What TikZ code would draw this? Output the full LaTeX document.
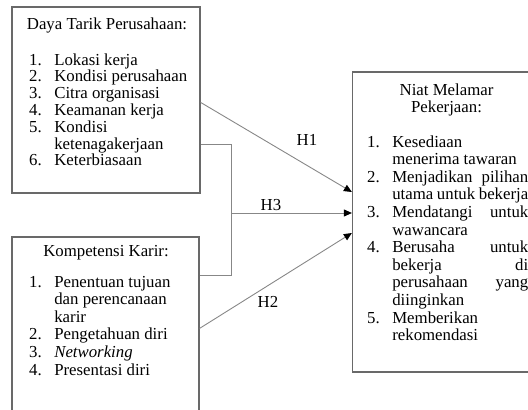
\documentclass[tikz,border=0pt]{standalone}
\usepackage{fontspec}
\setmainfont{Liberation Serif}
\usepackage{array}
\usetikzlibrary{arrows.meta,calc}
\definecolor{framegray}{RGB}{105,105,105}
\definecolor{linkgray}{RGB}{135,135,135}
\tikzset{
  >={Triangle[length=8pt,width=7pt,color=black]},
  frame/.style={draw=framegray,line width=1.2pt,inner sep=0pt},
  link/.style={draw=linkgray,line width=0.9pt},
  heading/.style={font={\fontsize{16.8pt}{17.6pt}\selectfont},align=center,inner sep=0pt},
  items/.style={font={\fontsize{16.8pt}{#1}\selectfont},inner sep=0pt,anchor=base west},
  items/.default=17.6pt,
  tag/.style={font={\fontsize{16.8pt}{17.6pt}\selectfont},inner sep=0pt},
}

\begin{document}
\begin{tikzpicture}[x=1pt,y=-1pt]
  \useasboundingbox (0,0) rectangle (528,410);
  % boxes
  \node[frame,minimum width=188pt,minimum height=186pt] (dtp) at (106,100) {};
  \node[frame,minimum width=187pt,minimum height=183pt] (kk) at (105.5,328.5) {};
  \node[frame,minimum width=188.5pt,minimum height=300pt] (nmp) at (446.75,222) {};
  % texts
  \node[heading] (dtpt) at (107,25) {Daya Tarik Perusahaan:};
  \node[items=16.8pt] (dtpl) at (29,65) {\begin{tabular}[t]{@{}l@{\hspace{12.5pt}}l@{}}
    1. & Lokasi kerja\\
    2. & Kondisi perusahaan\\
    3. & Citra organisasi\\
    4. & Keamanan kerja\\
    5. & Kondisi\\
       & ketenagakerjaan\\
    6. & Keterbiasaan
  \end{tabular}};
  \node[heading] (kkt) at (106,253) {Kompetensi Karir:};
  \node[items] (kkl) at (29,287) {\begin{tabular}[t]{@{}l@{\hspace{12.5pt}}l@{}}
    1. & Penentuan tujuan\\
       & dan perencanaan\\
       & karir\\
    2. & Pengetahuan diri\\
    3. & \textit{Networking}\\
    4. & Presentasi diri
  \end{tabular}};
  \node[heading] (nmpt) at (446.5,100) {Niat Melamar\\Pekerjaan:};
  \node[items] (nmpl) at (367,147) {\begin{tabular}[t]{@{}l@{\hspace{12.5pt}}p{136pt}@{}}
    1. & Kesediaan\\
       & menerima tawaran\\
    2. & Menjadikan\hfill pilihan\\
       & utama untuk bekerja\\
    3. & Mendatangi\hfill untuk\\
       & wawancara\\
    4. & Berusaha\hfill untuk\\
       & bekerja\hfill di\\
       & perusahaan\hfill yang\\
       & diinginkan\\
    5. & Memberikan\\
       & rekomendasi
  \end{tabular}};
  % connectors
  \coordinate (jt) at (231,144);
  \coordinate (jb) at (231,275);
  \draw[link,->] ($(dtp.north east)+(0,96)$) -- (nmp.west |- 0,192);
  \draw[link] (dtp.east |- jt) -- (jt) -- (jb) -- (kk.east |- jb);
  \draw[link,->] (jt |- 0,213) -- (nmp.west |- 0,213);
  \draw[link,->] ($(kk.north east)+(0,92)$) -- (nmp.west |- 0,233);
  \node[tag] (h1) at (307,140) {H1};
  \node[tag] (h3) at (271,205) {H3};
  \node[tag] (h2) at (268,302) {H2};
\end{tikzpicture}
\end{document}
